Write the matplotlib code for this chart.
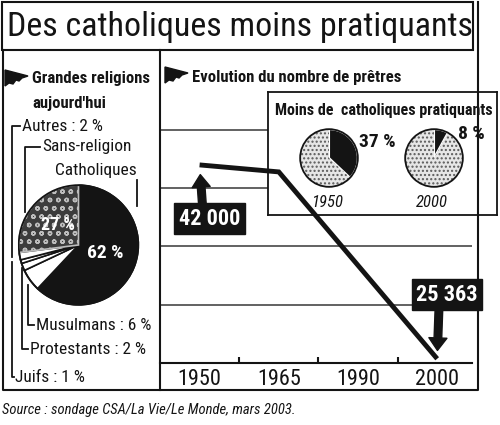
import matplotlib
matplotlib.use("Agg")
import matplotlib.pyplot as plt
from matplotlib import font_manager
from matplotlib.patches import Polygon, Rectangle

# pick a condensed family if one is installed
names = {f.name for f in font_manager.fontManager.ttflist}
narrow = "DejaVu Sans"
for cand in ["Liberation Sans Narrow", "DejaVu Sans Condensed", "Roboto Condensed"]:
    if cand in names:
        narrow = cand
        break
plt.rcParams["font.family"] = [narrow, "DejaVu Sans"]

# data
religion_labels = ["Catholiques", "Musulmans", "Protestants", "Juifs", "Autres", "Sans religion"]
religion_share = [62, 6, 2, 1, 2, 27]

years = ["1950", "1965", "1990", "2000"]
priest_years_idx = [0, 1, 3]
priests = [42000, 41400, 25363]
priest_labels = ["42 000", "25 363"]

practising_years = ["1950", "2000"]
practising_share = [37, 8]

W, H = 500, 425
fig = plt.figure(figsize=(W / 100, H / 100), dpi=100)
fig.patch.set_facecolor("white")
ink = "#141414"


def rect(x0, y0, x1, y1):
    return [x0 / W, 1 - y1 / H, (x1 - x0) / W, (y1 - y0) / H]


chart_rect = rect(160, 95, 472, 363)
xlim = (-0.5, 3.44)
ylim = (25000, 48000)

# ---- line chart background: grid, baseline, ticks
ax = fig.add_axes(chart_rect)
ax.set_xlim(*xlim)
ax.set_ylim(*ylim)
for v in [30000, 35000, 40000, 45000]:
    ax.axhline(v, color="#555555", lw=1.3, zorder=1)
for s in ["top", "right", "left"]:
    ax.spines[s].set_visible(False)
ax.spines["bottom"].set_linewidth(1.5)
ax.spines["bottom"].set_color(ink)
ax.set_yticks([])
ax.set_xticks(range(len(years)))
ax.set_xticklabels(years, fontsize=16, color=ink)
ax.set_xticks([0.5, 1.5, 2.5], minor=True)
ax.tick_params(axis="x", which="major", length=0, pad=4)
ax.tick_params(axis="x", which="minor", direction="in", length=4, width=1.5, color=ink)

# ---- inset box: fewer practising catholics (hides the upper grid lines)
inset = fig.add_axes(rect(268, 92, 497, 215))
inset.set_xticks([])
inset.set_yticks([])
for s in inset.spines.values():
    s.set_linewidth(1.3)
    s.set_color(ink)
inset.text(7 / 229, 1 - 18 / 123, "Moins de  catholiques pratiquants",
           transform=inset.transAxes, fontsize=11.5, fontweight="bold", color=ink,
           va="center")

pie_centres = [(329, 158), (434, 158)]
pct_pos = [(377, 142), (471, 134)]
for (cx, cy), yr, share, (tx, ty) in zip(pie_centres, practising_years, practising_share, pct_pos):
    pax = fig.add_axes(rect(cx - 30, cy - 30, cx + 30, cy + 30))
    w, _ = pax.pie([share, 100 - share], startangle=90, counterclock=False,
                   colors=[ink, "#e6e6e6"],
                   wedgeprops=dict(edgecolor="white", linewidth=1.5))
    w[1].set_hatch("....")
    w[1].set_edgecolor("#5a5a5a")
    w[1].set_linewidth(0)
    pax.add_patch(plt.Circle((0, 0), 1.0, fill=False, ec=ink, lw=1.3))
    pax.set_xlim(-1.04, 1.04)
    pax.set_ylim(-1.04, 1.04)
    pax.set_aspect("equal")
    fig.text(tx / W, 1 - ty / H, f"{share} %", fontsize=14, fontweight="bold", color=ink,
             ha="center", va="center")
    fig.text((cx - 2) / W, 1 - 202 / H, yr, fontsize=12, style="italic", color=ink,
             ha="center", va="center")

# ---- priest line drawn above the inset
lx = fig.add_axes(chart_rect)
lx.set_xlim(*xlim)
lx.set_ylim(*ylim)
lx.axis("off")
lx.patch.set_alpha(0)
lx.plot(priest_years_idx, priests, color=ink, lw=3.5, zorder=3,
        solid_capstyle="butt", solid_joinstyle="miter")

box = dict(boxstyle="square,pad=0.2", fc=ink, ec=ink)
fat = dict(arrowstyle="simple,head_width=1.3,head_length=0.9,tail_width=0.55",
           fc=ink, ec=ink, shrinkA=0)
p0 = (priest_years_idx[0], priests[0])
p1 = (priest_years_idx[2], priests[2])
lx.annotate(priest_labels[0], xy=p0, xytext=(10, -54), textcoords="offset pixels",
            ha="center", va="center", fontsize=16, fontweight="bold", color="white",
            bbox=box, zorder=5)
lx.annotate("", xy=p0, xytext=(3, -42), textcoords="offset pixels",
            arrowprops=dict(fat, shrinkB=7), zorder=4)
lx.annotate(priest_labels[1], xy=p1, xytext=(10, 64), textcoords="offset pixels",
            ha="center", va="center", fontsize=16, fontweight="bold", color="white",
            bbox=box, zorder=5)
lx.annotate("", xy=p1, xytext=(2, 56), textcoords="offset pixels",
            arrowprops=dict(fat, shrinkB=6), zorder=4)

# ---- left pie: religions today
lp = fig.add_axes(rect(17, 184, 140, 306))
wedges, _ = lp.pie(religion_share, startangle=90, counterclock=False,
                   colors=[ink, "white", "white", "white", "white", "#3c3c3c"],
                   wedgeprops=dict(edgecolor=ink, linewidth=1.2))
wedges[5].set_hatch("oo")
wedges[5].set_edgecolor("#bdbdbd")
lp.add_patch(plt.Circle((0, 0), 1.0, fill=False, ec=ink, lw=1.3))
lp.set_xlim(-1.02, 1.02)
lp.set_ylim(-1.02, 1.02)
lp.set_aspect("equal")
lp.text(-0.35, 0.33, f"{religion_share[5]} %", color="white", fontsize=13, fontweight="bold",
        ha="center", va="center")
lp.text(0.45, -0.13, f"{religion_share[0]} %", color="white", fontsize=14, fontweight="bold",
        ha="center", va="center")

# ---- overlay: frames, headings, labels
ov = fig.add_axes([0, 0, 1, 1])
ov.set_xlim(0, W)
ov.set_ylim(H, 0)
ov.axis("off")
ov.patch.set_alpha(0)

ov.add_patch(Rectangle((2, 2), 471, 48, fill=False, ec=ink, lw=1.5))
ov.plot([3, 3, 478, 478], [50, 390, 390, 2], color=ink, lw=1.5)
ov.plot([160, 160], [50, 390], color=ink, lw=1.5)

ov.text(240, 27, "Des catholiques moins pratiquants", fontsize=24.5, color=ink,
        ha="center", va="center")


def flag(x, y):
    pts = [(x, y), (x + 23, y + 6), (x + 17, y + 8), (x + 14, y + 11), (x + 11, y + 10),
           (x + 8, y + 14), (x + 4, y + 13), (x, y + 16)]
    ov.add_patch(Polygon(pts, closed=True, fc=ink, ec=ink))


flag(5, 70)
flag(165, 67)

ov.text(32, 78, "Grandes religions", fontsize=12, fontweight="bold", color=ink, va="center")
ov.text(32, 103, "aujourd'hui", fontsize=12, fontweight="bold", color=ink, va="center")
ov.text(192, 77, "Evolution du nombre de prêtres", fontsize=12, fontweight="bold",
        color=ink, va="center")

lab = dict(fontsize=12.5, color=ink, va="center")
ov.text(22, 126, f"{religion_labels[4]} : {religion_share[4]} %", **lab)
ov.text(42, 147, "Sans-religion", **lab)
ov.text(137, 170, religion_labels[0], ha="right", fontsize=12.5, color=ink, va="center")
ov.text(36, 325, f"{religion_labels[1]} : {religion_share[1]} %", **lab)
ov.text(30, 349, f"{religion_labels[2]} : {religion_share[2]} %", **lab)
ov.text(15, 377, f"{religion_labels[3]} : {religion_share[3]} %", **lab)

br = dict(color=ink, lw=1.3)
ov.plot([20, 12, 12], [126, 126, 257], **br)
ov.plot([40, 25, 25], [147, 147, 212], **br)
ov.plot([137, 137], [180, 206], **br)
ov.plot([28, 28, 34], [285, 325, 325], **br)
ov.plot([22, 22, 28], [268, 349, 349], **br)
ov.plot([12, 12, 14], [262, 377, 377], **br)

ov.text(2, 410, "Source : sondage CSA/La Vie/Le Monde, mars 2003.", fontsize=10.5,
        style="italic", color=ink, va="center")

fig.savefig("out.png", dpi=100)
